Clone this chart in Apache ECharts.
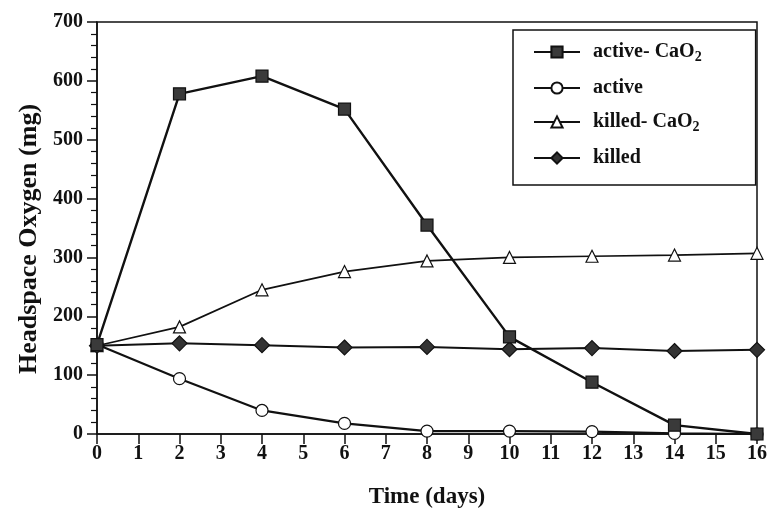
<!DOCTYPE html>
<html lang="en">
  <head>
    <meta charset="UTF-8" />
    <title>Headspace oxygen over time</title>
    <script src="https://cdn.jsdelivr.net/npm/echarts@6/dist/echarts.min.js"></script>
    <style>
      html, body { margin: 0; padding: 0; background: #fff; }
      #main { width: 770px; height: 514px; }
    </style>
  </head>
  <body>
    <div id="main"></div>

    <script>
      const days = [0, 2, 4, 6, 8, 10, 12, 14, 16];
      const activeCaO2 = [152, 578, 608, 552, 355, 165, 88, 15, 0];
      const active = [152, 94, 40, 18, 5, 5, 4, 1, 0];
      const killedCaO2 = [150, 182, 245, 276, 294, 300, 302, 304, 307];
      const killed = [150, 154, 151, 147, 148, 144, 146, 141, 143];

      const serif = '"Liberation Serif", "Times New Roman", serif';

      function pairs(values) {
        return values.map((v, i) => [days[i], v]);
      }

      const seriesData = [
        { name: 'active- CaO2', data: activeCaO2, symbol: 'rect', symbolSize: 12, fill: '#3a3a3a', width: 2.4 },
        { name: 'active', data: active, symbol: 'circle', symbolSize: 12, fill: '#fff', width: 2.2 },
        { name: 'killed- CaO2', data: killedCaO2, symbol: 'triangle', symbolSize: 12, fill: '#fff', width: 1.7 },
        { name: 'killed', data: killed, symbol: 'diamond', symbolSize: 15, fill: '#333', width: 2 },
      ];

      // draw the open markers on top so the filled squares don't hide them
      const series = seriesData.map((s, i) => ({
        name: s.name,
        type: 'line',
        data: pairs(s.data),
        symbol: s.symbol,
        symbolSize: s.symbolSize,
        showAllSymbol: true,
        z: i === 0 ? 3 : 2,
        lineStyle: { color: '#111', width: s.width },
        itemStyle: { color: s.fill, borderColor: '#111', borderWidth: 1.2 },
        emphasis: { disabled: true },
        animation: false,
      }));

      const chart = echarts.init(document.getElementById('main'));
      chart.setOption({
        backgroundColor: '#fff',
        animation: false,
        grid: {
          left: 97,
          right: 8,
          top: 22,
          bottom: 78,
          show: true,
          borderColor: '#111',
          borderWidth: 1.5,
        },
        legend: {
          orient: 'vertical',
          left: 513,
          top: 30,
          padding: [12, 54, 17, 20],
          itemGap: 14,
          itemWidth: 46,
          itemHeight: 14,
          borderColor: '#111',
          borderWidth: 1.5,
          backgroundColor: '#fff',
          data: seriesData.map((s) => s.name),
          formatter: (name) => name.replace('CaO2', '{t|CaO}{s|2}'),
          textStyle: {
            fontFamily: serif,
            fontWeight: 'bold',
            fontSize: 20,
            color: '#111',
            padding: [0, 0, 0, 8],
            rich: {
              t: { fontFamily: serif, fontWeight: 'bold', fontSize: 20, color: '#111' },
              s: { fontFamily: serif, fontWeight: 'bold', fontSize: 14, color: '#111', padding: [10, 0, 0, 0] },
            },
          },
        },
        xAxis: {
          type: 'value',
          min: 0,
          max: 16,
          interval: 1,
          name: 'Time (days)',
          nameLocation: 'middle',
          nameGap: 52,
          nameTextStyle: { fontFamily: serif, fontWeight: 'bold', fontSize: 23, color: '#111' },
          axisLine: { lineStyle: { color: '#111', width: 1.5 } },
          axisTick: { length: 10, lineStyle: { color: '#111', width: 1.5 } },
          axisLabel: { fontFamily: serif, fontWeight: 'bold', fontSize: 20, color: '#111', margin: 10 },
          splitLine: { show: false },
        },
        yAxis: {
          type: 'value',
          min: 0,
          max: 700,
          interval: 100,
          name: 'Headspace Oxygen (mg)',
          nameLocation: 'middle',
          nameGap: 47,
          nameTextStyle: {
            fontFamily: serif,
            fontWeight: 'bold',
            fontSize: 26,
            color: '#111',
            padding: [0, 22, 0, 0],
          },
          axisLine: { show: true, lineStyle: { color: '#111', width: 1.5 } },
          axisTick: { show: true, length: 10, lineStyle: { color: '#111', width: 1.5 } },
          minorTick: { show: true, splitNumber: 5, length: 6, lineStyle: { color: '#111', width: 1.2 } },
          axisLabel: { fontFamily: serif, fontWeight: 'bold', fontSize: 20, color: '#111', margin: 14 },
          splitLine: { show: false },
        },
        series: series,
      });

      window.onresize = function () {
        chart.resize();
      };
    </script>
  </body>
</html>
